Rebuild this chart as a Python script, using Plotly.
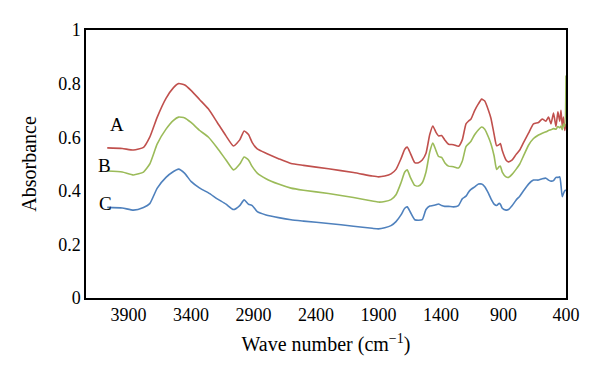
import plotly.graph_objects as go

wavenumber = [4070, 3950, 3860, 3780, 3730, 3670, 3600, 3540, 3500, 3450, 3400, 3330, 3260, 3190,
              3120, 3060, 3010, 2975, 2940, 2910, 2870, 2800, 2700, 2600, 2500, 2300, 2100, 1950,
              1900, 1850, 1800, 1760, 1720, 1690, 1670, 1645, 1610, 1580, 1550, 1520, 1490, 1465,
              1440, 1420, 1395, 1370, 1340, 1300, 1260, 1230, 1200, 1180, 1160, 1130, 1100, 1075,
              1050, 1020, 1000, 975, 955, 935, 925, 910, 880, 860, 830, 800, 770, 740, 700, 660,
              620, 590, 560, 540, 520, 500, 480, 465, 450, 440, 430, 420, 410, 400]

absorb_A = [0.560, 0.558, 0.552, 0.562, 0.600, 0.675, 0.745, 0.785, 0.800, 0.795, 0.775, 0.740, 0.705, 0.655,
            0.605, 0.567, 0.590, 0.623, 0.610, 0.580, 0.556, 0.540, 0.520, 0.502, 0.495, 0.482, 0.468, 0.455,
            0.452, 0.455, 0.463, 0.480, 0.520, 0.555, 0.563, 0.540, 0.505, 0.505, 0.515, 0.540, 0.610, 0.642,
            0.618, 0.605, 0.606, 0.590, 0.574, 0.572, 0.566, 0.590, 0.650, 0.660, 0.668, 0.700, 0.725, 0.742,
            0.735, 0.700, 0.670, 0.610, 0.568, 0.572, 0.576, 0.550, 0.515, 0.508, 0.515, 0.535, 0.552, 0.580,
            0.615, 0.650, 0.655, 0.668, 0.660, 0.675, 0.650, 0.690, 0.640, 0.695, 0.660, 0.700, 0.640, 0.675,
            0.625, 0.650]

absorb_B = [0.474, 0.470, 0.459, 0.470, 0.500, 0.575, 0.630, 0.663, 0.675, 0.672, 0.655, 0.625, 0.600, 0.560,
            0.515, 0.478, 0.500, 0.526, 0.515, 0.490, 0.466, 0.445, 0.425, 0.410, 0.402, 0.390, 0.375, 0.362,
            0.358, 0.360, 0.367, 0.385, 0.430, 0.470, 0.478, 0.450, 0.420, 0.418, 0.430, 0.470, 0.545, 0.578,
            0.550, 0.528, 0.525, 0.505, 0.492, 0.490, 0.485, 0.510, 0.565, 0.575, 0.585, 0.610, 0.628, 0.638,
            0.630, 0.600, 0.575, 0.530, 0.480, 0.490, 0.492, 0.470, 0.452, 0.450, 0.462, 0.480, 0.500, 0.530,
            0.570, 0.595, 0.608, 0.615, 0.620, 0.625, 0.628, 0.632, 0.630, 0.640, 0.635, 0.642, 0.628, 0.650,
            0.640, 0.830]

absorb_C = [0.338, 0.336, 0.328, 0.338, 0.352, 0.410, 0.450, 0.472, 0.481, 0.465, 0.435, 0.410, 0.392, 0.370,
            0.350, 0.330, 0.345, 0.366, 0.350, 0.345, 0.322, 0.310, 0.300, 0.292, 0.287, 0.278, 0.268, 0.260,
            0.258, 0.262, 0.270, 0.285, 0.310, 0.335, 0.340, 0.320, 0.292, 0.290, 0.292, 0.330, 0.343, 0.345,
            0.348, 0.351, 0.345, 0.342, 0.342, 0.340, 0.345, 0.370, 0.380, 0.395, 0.405, 0.415, 0.425, 0.425,
            0.415, 0.390, 0.370, 0.350, 0.345, 0.353, 0.350, 0.335, 0.328, 0.330, 0.345, 0.365, 0.380, 0.400,
            0.425, 0.440, 0.440, 0.445, 0.447, 0.440, 0.436, 0.438, 0.450, 0.450, 0.452, 0.420, 0.378, 0.390,
            0.400, 0.403]

series_names = ["A", "B", "C"]
series_colors = ["#C0504D", "#9BBB59", "#4F81BD"]
label_x = [3990, 4095, 4088]
label_y = [0.646, 0.493, 0.354]

x_ticks = [3900, 3400, 2900, 2400, 1900, 1400, 900, 400]
y_ticks = [0, 0.2, 0.4, 0.6, 0.8, 1]
y_ticktext = ["0", "0.2", "0.4", "0.6", "0.8", "1"]

serif = "Liberation Serif"

fig = go.Figure()
for name, vals, col in zip(series_names, [absorb_A, absorb_B, absorb_C], series_colors):
    fig.add_trace(go.Scatter(x=wavenumber, y=vals, mode="lines", name=name,
                             line=dict(color=col, width=1.6, shape="spline", smoothing=0.5)))

for name, lx, ly in zip(series_names, label_x, label_y):
    fig.add_annotation(x=lx, y=ly, text=name, showarrow=False,
                       font=dict(family=serif, size=19, color="black"))

# page body has an 8px margin, so the figure is 8px smaller and margins are shifted
fig.update_layout(
    width=592, height=372,
    margin=dict(l=78, r=34, t=22, b=82),
    paper_bgcolor="white", plot_bgcolor="white",
    showlegend=False,
    font=dict(family=serif, size=18, color="black"),
)
fig.update_xaxes(range=[4240, 400], tickvals=x_ticks, showgrid=False, zeroline=False,
                 showline=True, linecolor="black", linewidth=1.5, mirror=True, ticks="",
                 automargin=False,
                 title=dict(text="Wave number (cm<sup>−1</sup>)", font=dict(family=serif, size=20), standoff=13))
fig.update_yaxes(range=[0, 1], tickvals=y_ticks, ticktext=y_ticktext, showgrid=False, zeroline=False,
                 showline=True, linecolor="black", linewidth=1.5, mirror=True, ticks="",
                 automargin=False,
                 title=dict(text="Absorbance", font=dict(family=serif, size=20), standoff=16))

fig.write_html("out.html")
